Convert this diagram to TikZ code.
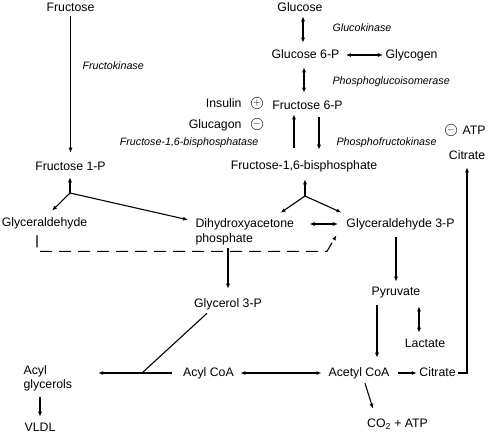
\documentclass[tikz,border=0pt]{standalone}
\usepackage{fontspec}
\setmainfont{Liberation Sans}
\usepackage{tikz}
\usetikzlibrary{calc,positioning,arrows.meta}

\begin{document}
\begin{tikzpicture}[x=1pt,y=-1pt,line width=1.1pt,>={Latex[length=5pt,width=4pt]},
	met/.style={font=\fontsize{12.3}{15}\selectfont,inner sep=2pt,text height=9pt,text depth=2.5pt},
	mettwo/.style={font=\fontsize{12.3}{15}\selectfont,inner sep=2pt,align=left},
	enz/.style={font=\fontsize{10.7}{13}\selectfont\itshape,inner sep=0pt,text height=7.8pt,text depth=2.2pt},
	sign/.style={circle,draw=black!75,line width=0.6pt,minimum size=11.5pt,inner sep=0pt,font=\fontsize{10}{10}\selectfont}]
	\useasboundingbox (0,0) rectangle (488,434);
	% fructose branch
	\node[met] (fru) at (70.5,8) {Fructose};
	\node[enz,anchor=west] (fruk) at (82,67) {Fructokinase};
	\node[met] (f1p) at (70.5,167) {Fructose 1-P};
	\node[met] (glyald) at (44.5,223) {Glyceraldehyde};
	\node[mettwo,anchor=west] (dhap) at (193,232) {Dihydroxyacetone\\phosphate};
	\node[met] (g3p) at (400.5,224) {Glyceraldehyde 3-P};
	\node[met] (gly3p) at (228,304) {Glycerol 3-P};
	\node[mettwo,anchor=west,font=\fontsize{12.3}{14}\selectfont] (acylglyc) at (21,378) {Acyl\\glycerols};
	\node[met] (vldl) at (40,428) {VLDL};
	\node[met] (acylcoa) at (208.5,373) {Acyl CoA};
	\node[met] (acetylcoa) at (359,373) {Acetyl CoA};
	\node[met] (cit) at (437.5,373) {Citrate};
	\node[met] (co2) at (397.5,424) {CO\textsubscript{2} + ATP};
	\node[met] (pyr) at (396,292) {Pyruvate};
	\node[met] (lac) at (425,344) {Lactate};
	% glucose branch
	\node[met] (glc) at (300,8) {Glucose};
	\node[enz,anchor=west] (gk) at (332,29) {Glucokinase};
	\node[met] (g6p) at (305.5,55) {Glucose 6-P};
	\node[met] (glycogen) at (411.5,55) {Glycogen};
	\node[enz,anchor=west] (pgi) at (332,82) {Phosphoglucoisomerase};
	\node[met] (f6p) at (307.5,106) {Fructose 6-P};
	\node[met,anchor=east] (insulin) at (244,104) {Insulin};
	\node[met,anchor=east] (glucagon) at (244,125) {Glucagon};
	\node[sign] (plus) at (257,103) {$+$};
	\node[sign] (minus) at (257,124) {$-$};
	\node[enz,anchor=east] (fbpase) at (259,143) {Fructose-1,6-bisphosphatase};
	\node[enz,anchor=west] (pfk) at (336,143) {Phosphofructokinase};
	\node[met] (f16bp) at (304,166) {Fructose-1,6-bisphosphate};
	\node[met] (citup) at (467,156) {Citrate};
	\node[sign] (minusatp) at (451,130) {$-$};
	\node[met,anchor=west] (atp) at (460,131) {ATP};
	\coordinate (bp1) at (70,193);
	\coordinate (bp2) at (305,196);
	\coordinate (jn) at (142,373);

	\draw[->,shorten >=6pt] (fru.south) -- (f1p.north);
	\draw[->,shorten >=2pt] (bp1) -- (bp1 |- f1p.south);
	\draw[->] (bp1) -- ([xshift=7.5pt,yshift=4pt]glyald.north);
	\draw[->] (bp1) -- ([xshift=-5pt,yshift=-3.6pt]dhap.north west);
	\draw[->,shorten >=5pt] (bp2) -- (bp2 |- f16bp.south);
	\draw[->] (bp2) -- ([xshift=-16pt,yshift=3.4pt]dhap.north east);
	\draw[->] (bp2) -- ([xshift=-2.5pt,yshift=3.2pt]g3p.north west);
	\draw[<->,shorten <=13pt,shorten >=6pt] (dhap.east |- g3p.west) -- (g3p.west);
	\draw[->,dash pattern=on 12pt off 7pt] ([xshift=-7.5pt,yshift=-4pt]glyald.south) -- ++(0,16) -- ++(290,0) -- ([xshift=-7.5pt,yshift=-3pt]g3p.south west);
	\draw[->,shorten >=7pt] (dhap.south -| gly3p.north) -- (gly3p.north);
	\draw ([xshift=-21pt,yshift=-1pt]gly3p.south) -- (jn);
	\draw[->,shorten <=9pt,shorten >=23.5pt] (acylcoa.west) -- (acylcoa.west -| acylglyc.east);
	\draw[->,shorten <=4pt,shorten >=3pt] (acylglyc.south -| vldl.north) -- (vldl.north);
	\draw[<->,shorten <=4pt,shorten >=4.5pt] (acylcoa.east) -- (acetylcoa.west);
	\draw[->,shorten <=6.5pt] (acetylcoa.east) -- (cit.west);
	\draw[->,shorten >=3pt] (cit.east) -- (cit.east -| citup.south) -- (citup.south);
	\draw[->] ([xshift=6pt,yshift=-2pt]acetylcoa.south) -- ([xshift=-24.5pt,yshift=7pt]co2.north);
	\draw[->,shorten <=5pt,shorten >=2pt] (g3p.south -| pyr.north) -- (pyr.north);
	\draw[->,shorten <=5pt,shorten >=7pt] ([xshift=-19pt]pyr.south) -- ([xshift=18pt]acetylcoa.north);
	\draw[<->,shorten <=6pt,shorten >=3pt] ([xshift=23pt]pyr.south) -- ([xshift=-6pt]lac.north);
	\draw[<->,shorten >=4pt] ([xshift=3pt]glc.south) -- ([xshift=-2.5pt]g6p.north);
	\draw[<->,shorten <=4pt] (g6p.east) -- (glycogen.west);
	\draw[<->,shorten <=4pt,shorten >=5pt] ([xshift=-1.5pt]g6p.south) -- ([xshift=-3.5pt]f6p.north);
	\draw[->,shorten <=10pt] ([xshift=-10pt]f16bp.north) -- ([xshift=-13.5pt]f6p.south);
	\draw[->,shorten <=3pt,shorten >=8pt] ([xshift=11.5pt]f6p.south) -- ([xshift=15pt]f16bp.north);
\end{tikzpicture}
\end{document}
